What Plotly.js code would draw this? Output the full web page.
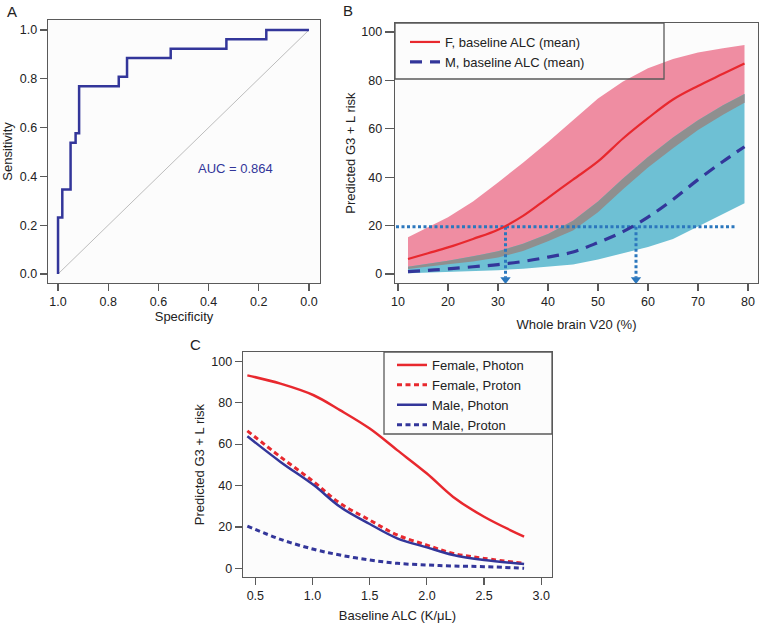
<!DOCTYPE html>
<html><head><meta charset="utf-8">
<script src="https://cdn.plot.ly/plotly-3.0.1.min.js"></script>
<style>html,body{margin:0;padding:0;background:#fff}#g{width:760px;height:624px}</style>
</head><body><div id="g"></div>
<script>
// ---- Panel A: ROC ----
const rocSpec = [1.0, 1.0, 0.983, 0.95, 0.93, 0.916, 0.758, 0.725, 0.551, 0.329, 0.17, 0.0];
const rocSens = [0.0, 0.231, 0.346, 0.538, 0.577, 0.769, 0.808, 0.885, 0.923, 0.962, 1.0, 1.0];
const diagX = [1.0, 0.0];
const diagY = [0.0, 1.0];
const aucLabel = "AUC = 0.864";

// ---- Panel B: predicted risk vs V20 ----
const v20 = [12, 16, 20, 25, 30, 35, 40, 45, 50, 55, 60, 65, 70, 75, 79.3];
const fMean  = [6.2, 8.6, 11.0, 14.5, 18.3, 24.0, 31.5, 39.0, 46.5, 56.0, 64.4, 72.1, 77.7, 82.7, 87.0];
const fUpper = [15.2, 19.5, 23.5, 30.0, 37.8, 46.0, 54.5, 63.5, 72.5, 79.5, 85.0, 88.8, 91.5, 93.3, 94.6];
const fLower = [2.1, 3.0, 4.0, 5.2, 6.8, 9.5, 13.5, 18.0, 25.5, 35.0, 44.0, 52.0, 59.5, 65.8, 70.8];
const mMean  = [1.0, 1.5, 2.1, 3.0, 3.9, 5.2, 7.0, 9.1, 13.0, 17.5, 23.5, 30.8, 39.0, 46.5, 52.6];
const mUpper = [3.0, 4.2, 5.5, 7.3, 9.4, 12.5, 16.5, 22.0, 30.0, 39.5, 48.3, 56.4, 63.5, 69.7, 74.4];
const mLower = [0.3, 0.6, 0.9, 1.2, 1.6, 2.2, 2.9, 3.9, 6.0, 8.5, 11.2, 14.5, 19.8, 24.8, 29.2];
const riskThreshold = 19.5;
const crossF = 31.5;
const crossM = 57.6;
const refLineX = [9.6, 77.7];

// ---- Panel C: predicted risk vs baseline ALC ----
const alc = [0.43, 0.72, 1.01, 1.24, 1.5, 1.74, 2.0, 2.23, 2.5, 2.85];
const femalePhoton = [93.2, 89.2, 83.6, 76.4, 67.5, 57.1, 45.8, 34.5, 24.9, 15.3];
const femaleProton = [66.4, 53.8, 41.8, 31.4, 23.3, 16.1, 11.2, 7.2, 4.8, 2.4];
const malePhoton   = [63.8, 51.4, 40.2, 29.7, 21.4, 14.5, 10.1, 6.4, 4.0, 2.1];
const maleProton   = [20.4, 14.0, 9.2, 6.4, 4.0, 2.4, 1.6, 1.1, 0.8, 0.0];

const RED = '#e8282e', NAVY = '#33369a', DOTBLUE = '#2b77bd';
const FONT = 'Liberation Sans, Arial, sans-serif';
function band(x, lo, hi) {
  return { x: x.concat(x.slice().reverse()), y: hi.concat(lo.slice().reverse()) };
}
const pinkB = band(v20, fLower, fUpper);
const blueB = band(v20, mLower, mUpper);
const grayB = band(v20, fLower, mUpper);

const traces = [
  // A
  {x: diagX, y: diagY, xaxis: 'x', yaxis: 'y', mode: 'lines', line: {color: '#bdbdbd', width: 1}, showlegend: false, hoverinfo: 'skip'},
  {x: rocSpec, y: rocSens, xaxis: 'x', yaxis: 'y', mode: 'lines', line: {color: NAVY, width: 2.5, shape: 'hv'}, showlegend: false},
  // B bands
  {x: pinkB.x, y: pinkB.y, xaxis: 'x2', yaxis: 'y2', mode: 'lines', fill: 'toself', fillcolor: '#ef8da2', line: {width: 0}, showlegend: false, hoverinfo: 'skip'},
  {x: blueB.x, y: blueB.y, xaxis: 'x2', yaxis: 'y2', mode: 'lines', fill: 'toself', fillcolor: '#6ec0d4', line: {width: 0}, showlegend: false, hoverinfo: 'skip'},
  {x: grayB.x, y: grayB.y, xaxis: 'x2', yaxis: 'y2', mode: 'lines', fill: 'toself', fillcolor: '#8f8f8f', line: {width: 0}, showlegend: false, hoverinfo: 'skip'},
  // B reference lines
  {x: refLineX, y: [riskThreshold, riskThreshold], xaxis: 'x2', yaxis: 'y2', mode: 'lines', line: {color: DOTBLUE, width: 3, dash: '3px,2.5px'}, showlegend: false},
  {x: [crossF, crossF], y: [riskThreshold, -1.5], xaxis: 'x2', yaxis: 'y2', mode: 'lines', line: {color: DOTBLUE, width: 3, dash: '3px,2.5px'}, showlegend: false},
  {x: [crossM, crossM], y: [riskThreshold, -1.5], xaxis: 'x2', yaxis: 'y2', mode: 'lines', line: {color: DOTBLUE, width: 3, dash: '3px,2.5px'}, showlegend: false},
  {x: [crossF, crossM], y: [-2.3, -2.3], xaxis: 'x2', yaxis: 'y2', mode: 'markers', marker: {symbol: 'triangle-down', size: 9, color: DOTBLUE}, cliponaxis: false, showlegend: false},
  // B mean lines
  {x: v20, y: fMean, xaxis: 'x2', yaxis: 'y2', mode: 'lines', name: 'F, baseline ALC (mean)', line: {color: RED, width: 2.2, shape: 'spline'}, legend: 'legend'},
  {x: v20, y: mMean, xaxis: 'x2', yaxis: 'y2', mode: 'lines', name: 'M, baseline ALC (mean)', line: {color: NAVY, width: 3.2, shape: 'spline', dash: '12px,8px'}, legend: 'legend'},
  // C
  {x: alc, y: femalePhoton, xaxis: 'x3', yaxis: 'y3', mode: 'lines', name: 'Female, Photon', line: {color: RED, width: 2.5, shape: 'spline'}, legend: 'legend2'},
  {x: alc, y: femaleProton, xaxis: 'x3', yaxis: 'y3', mode: 'lines', name: 'Female, Proton', line: {color: RED, width: 3, shape: 'spline', dash: '5px,3.5px'}, legend: 'legend2'},
  {x: alc, y: malePhoton, xaxis: 'x3', yaxis: 'y3', mode: 'lines', name: 'Male, Photon', line: {color: NAVY, width: 2.5, shape: 'spline'}, legend: 'legend2'},
  {x: alc, y: maleProton, xaxis: 'x3', yaxis: 'y3', mode: 'lines', name: 'Male, Proton', line: {color: NAVY, width: 3, shape: 'spline', dash: '5px,3.5px'}, legend: 'legend2'}
];

const axBase = {
  showline: true, mirror: true, linecolor: '#5a5a5a', linewidth: 1.3,
  ticks: 'outside', ticklen: 7, tickwidth: 1.2, tickcolor: '#5a5a5a',
  showgrid: false, zeroline: false, tickfont: {family: FONT, size: 12.5, color: '#222'},
  automargin: false, fixedrange: true
};
function ax(extra) { return Object.assign({}, axBase, extra); }
const tf = {family: FONT, size: 13, color: '#222'};

const layout = {
  width: 760, height: 624, margin: {l: 0, r: 0, t: 0, b: 0},
  paper_bgcolor: '#ffffff', plot_bgcolor: '#fcfcfc',
  font: {family: FONT, color: '#222'},
  xaxis: ax({domain: [0.06316, 0.42105], range: [1.04, -0.044], tickvals: [1.0, 0.8, 0.6, 0.4, 0.2, 0.0], tickformat: '.1f', anchor: 'y',
    title: {text: 'Specificity', font: tf, standoff: 3}}),
  yaxis: ax({domain: [0.54647, 0.96795], range: [-0.037, 1.041], tickvals: [0, 0.2, 0.4, 0.6, 0.8, 1.0], tickformat: '.1f', anchor: 'x',
    title: {text: 'Sensitivity', font: tf, standoff: 8}}),
  xaxis2: ax({domain: [0.51974, 0.99737], range: [9.4, 82.0], tickvals: [10, 20, 30, 40, 50, 60, 70, 80], anchor: 'y2',
    title: {text: 'Whole brain V20 (%)', font: tf, standoff: 11}}),
  yaxis2: ax({domain: [0.54647, 0.96314], range: [-3.7, 103.7], tickvals: [0, 20, 40, 60, 80, 100], anchor: 'x2', ticklen: 9,
    title: {text: 'Predicted G3 + L risk', font: tf, standoff: 2}}),
  xaxis3: ax({domain: [0.31974, 0.72632], range: [0.392, 3.094], tickvals: [0.5, 1.0, 1.5, 2.0, 2.5, 3.0], tickformat: '.1f', anchor: 'y3',
    title: {text: 'Baseline ALC (K/μL)', font: tf, standoff: 8}}),
  yaxis3: ax({domain: [0.07532, 0.43590], range: [-4.2, 104.5], tickvals: [0, 20, 40, 60, 80, 100], anchor: 'x3',
    title: {text: 'Predicted G3 + L risk', font: tf, standoff: 3}}),
  legend: {x: 405/760, y: 1 - 27/624, xanchor: 'left', yanchor: 'top', bgcolor: 'rgba(0,0,0,0)', borderwidth: 0,
    font: {family: FONT, size: 13, color: '#222'}},
  legend2: {x: 392/760, y: 1 - 350/624, xanchor: 'left', yanchor: 'top', bgcolor: 'rgba(0,0,0,0)', borderwidth: 0,
    font: {family: FONT, size: 13, color: '#222'}},
  shapes: [
    {type: 'rect', xref: 'paper', yref: 'paper', x0: 395/760, x1: 664/760, y0: 1 - 79/624, y1: 1 - 23/624, line: {color: '#5a5a5a', width: 1.3}, layer: 'above'},
    {type: 'rect', xref: 'paper', yref: 'paper', x0: 384/760, x1: 552/760, y0: 1 - 434/624, y1: 1 - 352/624, line: {color: '#5a5a5a', width: 1.3}, layer: 'above'}
  ],
  annotations: [
    {text: 'A', xref: 'paper', yref: 'paper', x: 12/760, y: 1 - 1/624, xanchor: 'center', yanchor: 'top', showarrow: false, font: {family: FONT, size: 15, color: '#222'}},
    {text: 'B', xref: 'paper', yref: 'paper', x: 348/760, y: 1 - 0/624, xanchor: 'center', yanchor: 'top', showarrow: false, font: {family: FONT, size: 15, color: '#222'}},
    {text: 'C', xref: 'paper', yref: 'paper', x: 195/760, y: 1 - 334/624, xanchor: 'center', yanchor: 'top', showarrow: false, font: {family: FONT, size: 15, color: '#222'}},
    {text: aucLabel, xref: 'x', yref: 'y', x: 0.293, y: 0.433, showarrow: false, font: {family: FONT, size: 13, color: NAVY}}
  ]
};

Plotly.newPlot('g', traces, layout, {displayModeBar: false, staticPlot: true});
</script>
</body></html>
